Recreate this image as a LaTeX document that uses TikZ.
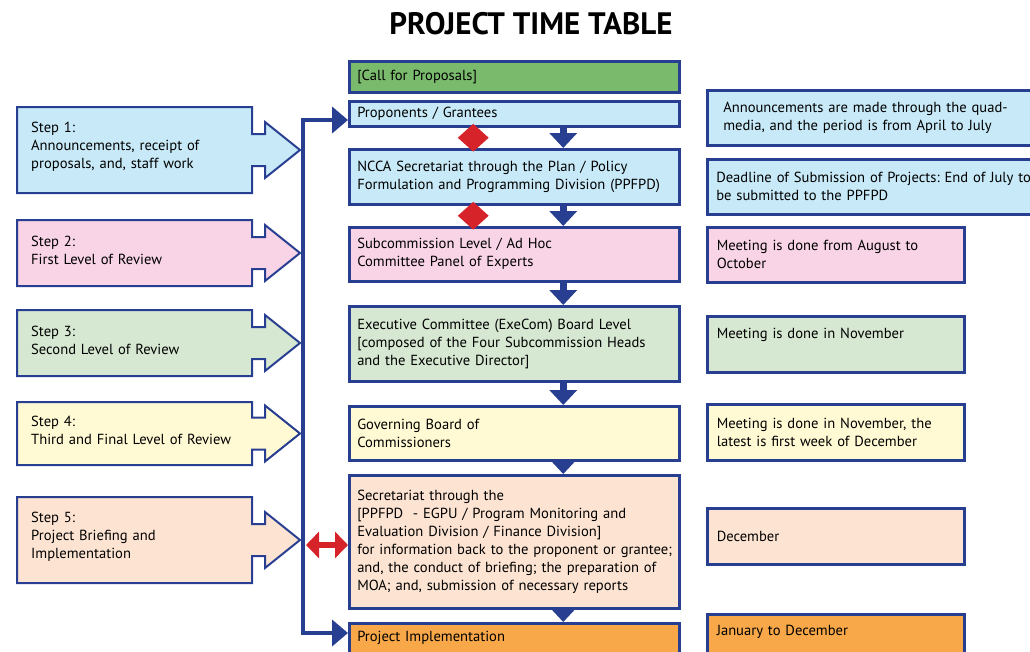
\documentclass[tikz,border=0pt]{standalone}
\usepackage{fontspec}
\setmainfont{PT Sans}
\usepackage{tikz}
\usetikzlibrary{arrows.meta,shapes.geometric,calc}
\definecolor{frameblue}{RGB}{40,62,145}
\definecolor{alertred}{RGB}{214,35,42}
\definecolor{callgreen}{RGB}{122,186,108}
\definecolor{paleblue}{RGB}{200,234,248}
\definecolor{palepink}{RGB}{248,212,230}
\definecolor{palegreen}{RGB}{214,232,210}
\definecolor{paleyellow}{RGB}{255,250,212}
\definecolor{palepeach}{RGB}{253,228,210}
\definecolor{implorange}{RGB}{248,168,72}
\frenchspacing
\tikzset{
  box/.style={draw=frameblue, line width=2.5pt, anchor=north west, align=left,
    inner xsep=7pt, inner ysep=0pt, font=\fontsize{14.6}{18}\selectfont},
  midbox/.style={box, minimum width=330pt, text width=314pt},
  sidebox/.style={box, inner xsep=9pt, minimum width=257pt, text width=238pt},
  steptext/.style={anchor=west, align=left, text width=220pt, inner xsep=14pt,
    font=\fontsize{14.6}{18}\selectfont},
  stepline/.style={draw=frameblue, line width=2pt},
  flowarrow/.style={frameblue, line width=7pt, -{Triangle[length=15pt,width=27pt]}},
  busline/.style={frameblue, line width=4pt,
    {Triangle[length=16pt,width=26pt]}-{Triangle[length=16pt,width=26pt]}},
  linkarrow/.style={alertred, line width=6pt,
    {Triangle[length=13pt,width=26pt]}-{Triangle[length=13pt,width=26pt]}},
  decision/.style={diamond, fill=alertred, minimum width=31pt, minimum height=28pt, inner sep=0pt}
}
\begin{document}
\begin{tikzpicture}[x=1pt, y=-1pt]
  \clip (0,0) rectangle (1030,651);

  % title
  \node[font=\bfseries\fontsize{31}{34}\selectfont] (title) at (531,24) {PROJECT TIME TABLE};

  % steps on the left
  \foreach \n/\top/\bot/\col/\txt in {
      1/107/193/paleblue/{Step 1:\\Announcements, receipt of\\proposals, and, staff work},
      2/220/286/palepink/{Step 2:\\First Level of Review},
      3/310/376/palegreen/{Step 3:\\Second Level of Review},
      4/402/465/paleyellow/{Step 4:\\Third and Final Level of Review},
      5/497/583/palepeach/{Step 5:\\Project Briefing and\\Implementation}} {
    \pgfmathsetmacro\mid{(\top+\bot)/2}
    \draw[stepline, fill=\col] (17,\top) -- (252,\top) -- (252,\mid-16) -- (265,\mid-16)
      -- (265,\mid-28) -- (300,\mid) -- (265,\mid+28) -- (265,\mid+16) -- (252,\mid+16)
      -- (252,\bot) -- (17,\bot) -- cycle;
    \node[steptext] (step\n) at (17,\mid-3) {\txt};
  }

  % middle column
  \node[midbox, fill=callgreen, minimum height=31pt] (call) at (348,60) {[Call for Proposals]};
  \node[midbox, fill=paleblue, minimum height=25pt] (prop) at (348,100) {Proponents / Grantees};
  \node[midbox, fill=paleblue, minimum height=55pt] (ncca) at (348,148)
    {NCCA Secretariat through the Plan / Policy\\Formulation and Programming Division (PPFPD)};
  \node[midbox, fill=palepink, minimum height=54pt] (subc) at (348,226)
    {Subcommission Level / Ad Hoc\\Committee Panel of Experts};
  \node[midbox, fill=palegreen, minimum height=75pt] (exec) at (348,305)
    {Executive Committee (ExeCom) Board Level\\{[}composed of the Four Subcommission Heads\\and the Executive Director]};
  \node[midbox, fill=paleyellow, minimum height=54pt] (govb) at (348,405)
    {Governing Board of\\Commissioners};
  \node[midbox, fill=palepeach, minimum height=133pt] (secr) at (348,474)
    {Secretariat through the\\{[}PPFPD\ \ - EGPU / Program Monitoring and\\Evaluation Division / Finance Division]\\\mbox{for information back to the proponent or grantee;}\\and, the conduct of briefing; the preparation of\\MOA; and, submission of necessary reports};
  \node[midbox, fill=implorange, minimum height=50pt, text depth=24pt] (impl) at (348,622)
    {Project Implementation};

  % right column
  \node[sidebox, fill=paleblue, minimum width=340pt, text width=310pt, inner xsep=16pt,
    minimum height=55pt] (annc) at (706,89)
    {Announcements are made through the quad-\\media, and the period is from April to July};
  \node[sidebox, fill=paleblue, minimum width=340pt, text width=322pt, minimum height=55pt]
    (dead) at (706,158) {Deadline of Submission of Projects: End of July to\\be submitted to the PPFPD};
  \node[sidebox, fill=palepink, minimum height=55pt] (augm) at (706,226)
    {Meeting is done from August to\\October};
  \node[sidebox, fill=palegreen, minimum height=56pt, text depth=22pt] (novm) at (706,315)
    {Meeting is done in November};
  \node[sidebox, fill=paleyellow, minimum height=56pt] (novd) at (706,403)
    {Meeting is done in November, the\\latest is first week of December};
  \node[sidebox, fill=palepeach, minimum height=56pt] (decm) at (706,507) {December};
  \node[sidebox, fill=implorange, minimum height=50pt, text depth=18pt] (janm) at (706,613)
    {January to December};

  % flow down the middle
  \foreach \a/\b in {prop/ncca, ncca/subc, subc/exec, exec/govb, govb/secr, secr/impl}
    \draw[flowarrow] ([xshift=49pt]\a.south) -- ([xshift=49pt]\b.north);

  \node[decision] (dia1) at ($(prop.south)!0.5!(ncca.north) + (-41,0)$) {};
  \node[decision] (dia2) at ($(ncca.south)!0.5!(subc.north) + (-41,0)$) {};

  % bus line
  \coordinate (bustop) at (303,120);
  \coordinate (busbot) at (303,633);
  \draw[busline] (prop.west |- bustop) -- (bustop) -- (busbot) -- (impl.west |- busbot);

  \coordinate (busmid) at (306,545);
  \draw[linkarrow] (busmid) -- (secr.west |- busmid);
\end{tikzpicture}
\end{document}
